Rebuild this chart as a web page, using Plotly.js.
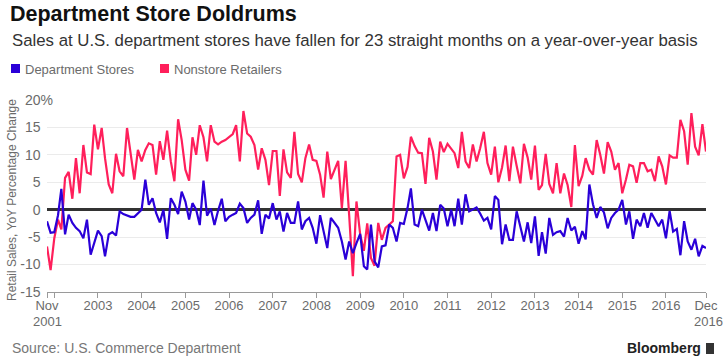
<!DOCTYPE html>
<html>
<head>
<meta charset="utf-8">
<script src="https://cdn.plot.ly/plotly-3.0.1.min.js"></script>
<style>
html,body{margin:0;padding:0;background:#fff;}
#chart{width:728px;height:364px;}
</style>
</head>
<body>
<div id="chart"></div>
<script>
// Monthly series, Nov 2001 .. Dec 2016 (182 months)
const startYear = 2001, startMonth = 11;

const departmentStores = [
 -2.1,-4.2,-4.1,-1.0,3.8,-4.5,-0.9,-2.4,-3.3,-3.9,-5.2,-1.8,
 -8.2,-6.0,-3.8,-4.8,-8.5,-4.5,-4.1,-4.7,-0.3,-0.8,-1.1,-1.3,
 -1.3,-0.7,0.0,5.5,0.9,2.1,-0.6,-2.3,0.0,-5.3,2.1,0.9,
 -0.8,3.3,1.5,-1.8,1.2,0.0,-2.8,5.3,-1.1,0.2,-2.8,-0.2,
 2.0,-2.1,-1.3,-0.9,-0.6,1.1,0.3,-2.4,-1.5,-0.9,1.7,-4.4,
 -0.9,-1.6,1.2,-1.8,-0.3,-4.0,-0.6,-2.4,-2.4,1.5,-3.6,-2.1,
 -1.5,-3.3,-6.2,-1.0,-3.9,-7.0,-1.5,-2.4,-3.3,-5.8,-9.1,-5.8,
 -7.9,-6.1,-4.4,-10.3,-10.9,-2.7,-9.4,-10.5,-6.7,-6.5,-2.7,-3.3,
 -5.8,-2.4,-2.6,0.3,3.9,-2.7,-3.0,0.0,-1.8,-3.8,-0.6,-3.9,
 0.9,0.2,-3.0,0.0,-3.0,2.0,-2.7,2.8,-0.3,0.0,0.4,-0.7,
 -2.0,-1.5,-3.6,2.5,1.8,-6.3,-2.7,-5.5,-5.5,-0.3,-3.4,-5.8,
 -2.3,-6.1,-1.2,-8.4,-4.1,-8.0,-1.5,-4.6,-4.1,-3.9,-4.9,-1.5,
 -3.8,-3.1,-6.2,-3.9,-5.4,4.6,1.0,-1.5,0.5,-0.5,-3.4,-1.5,
 -0.6,0.0,1.8,-2.7,-0.3,-5.3,-1.8,-3.0,-0.6,-3.3,-0.6,-1.8,
 -3.0,-1.8,-5.2,-0.2,-4.0,-3.5,-8.3,-2.1,-5.8,-7.3,-5.3,-8.5,
 -6.6,-7.0
];

const nonstoreRetailers = [
 -6.7,-11.0,-5.2,-1.8,-3.6,5.8,6.9,2.0,9.4,3.0,11.8,6.8,
 6.5,15.5,11.0,14.9,9.4,4.6,3.0,10.2,7.0,6.1,14.9,10.6,
 5.5,10.9,8.8,10.9,12.1,11.8,6.4,12.5,9.1,14.4,8.8,5.2,
 16.5,12.7,7.3,5.3,13.2,10.0,15.4,13.2,8.8,15.4,12.4,11.9,
 12.4,12.7,13.2,13.8,15.4,8.8,18.0,13.9,13.3,11.8,7.3,11.2,
 9.1,4.5,10.7,10.7,2.5,11.0,6.8,5.8,14.2,6.5,5.0,9.4,
 11.9,9.1,8.9,6.4,2.2,10.6,5.6,7.3,8.9,0.3,8.9,-1.0,
 -12.1,1.5,-4.5,-7.5,-2.5,-8.8,-10.2,-2.4,-5.5,-3.3,-2.7,-2.1,
 9.7,10.0,5.7,7.8,13.3,11.6,10.4,10.3,4.7,13.1,10.6,5.5,
 12.4,10.5,12.0,11.0,10.3,7.6,14.2,8.8,7.6,11.9,8.8,11.2,
 14.2,8.5,6.4,11.5,5.0,7.7,11.7,5.2,11.5,8.0,4.8,12.0,
 9.5,5.5,11.7,3.6,4.5,10.2,4.7,3.0,8.5,3.0,6.6,4.5,
 0.5,11.8,4.3,6.2,9.4,7.3,6.4,12.7,10.0,6.6,12.3,10.6,
 7.3,8.5,3.0,5.5,8.2,7.9,4.9,8.5,8.5,7.0,7.3,5.2,
 9.7,7.9,4.6,9.9,9.5,9.5,16.4,14.3,8.2,17.6,11.5,9.9,
 15.6,10.6
];

const xTickVals = ['2001-11-01','2002-01-01','2003-01-01','2004-01-01','2005-01-01','2006-01-01',
  '2007-01-01','2008-01-01','2009-01-01','2010-01-01','2011-01-01','2012-01-01','2013-01-01',
  '2014-01-01','2015-01-01','2016-01-01','2016-12-01'];
const xTickText = ['Nov','','2003','2004','2005','2006','2007','2008','2009','2010',
  '2011','2012','2013','2014','2015','2016','Dec'];
const xEndYears = ['2001', '2016'];
const yTickVals = [-15,-10,-5,0,5,10,15,20];
const yTickText = ['-15','-10','-5','0','5','10','15','20%'];

// month dates
const months = [];
for (let i = 0; i < departmentStores.length; i++) {
  const t = (startMonth - 1) + i;
  const y = startYear + Math.floor(t / 12);
  const m = (t % 12) + 1;
  months.push(y + '-' + String(m).padStart(2, '0') + '-01');
}

const BLUE = '#2a00d8';
const PINK = '#ff1f5b';
const GRAY = '#6b6b6b';

const L = 47, R = 22, T = 100, B = 72, W = 728, H = 364;
const PW = W - L - R, PH = H - T - B;
const px2x = p => (p - L) / PW;
const px2y = p => (H - B - p) / PH;

const traces = [
  {x: months, y: nonstoreRetailers, type: 'scatter', mode: 'lines', name: 'Nonstore Retailers',
   line: {color: PINK, width: 2.2}, showlegend: false, hoverinfo: 'x+y'},
  {x: months, y: departmentStores, type: 'scatter', mode: 'lines', name: 'Department Stores',
   line: {color: BLUE, width: 2.2}, showlegend: false, hoverinfo: 'x+y'}
];

const FONT = 'Liberation Sans, Arial, Helvetica, sans-serif';

const yText = yTickText.map(t => t.endsWith('%') ? t : t + '<span style="color:rgba(0,0,0,0)">%</span>');

const layout = {
  width: W, height: H,
  margin: {l: L, r: R, t: T, b: B, pad: 0},
  paper_bgcolor: '#fff', plot_bgcolor: '#fff',
  font: {family: FONT, color: GRAY, size: 13},
  title: {text: '<b>Department Store Doldrums</b>', font: {family: FONT, size: 21.5, color: '#111'},
          xref: 'container', yref: 'container', x: 10 / W, xanchor: 'left', y: 1 - 6 / H, yanchor: 'top'},
  showlegend: false,
  xaxis: {
    type: 'date', range: ['2001-11-01', '2016-12-01'],
    tickmode: 'array', tickvals: xTickVals, ticktext: xTickText,
    showgrid: false, zeroline: false,
    showline: true, linecolor: '#9a9a9a', linewidth: 1,
    ticks: 'outside', ticklen: 5, tickcolor: '#9a9a9a', tickwidth: 1,
    ticklabelstandoff: -4,
    tickfont: {size: 13, color: GRAY, family: FONT}, tickangle: 0
  },
  yaxis: {
    range: [-15, 20], tickmode: 'array', tickvals: yTickVals, ticktext: yText,
    showgrid: true, gridcolor: '#ebebeb', gridwidth: 1,
    zeroline: true, zerolinecolor: '#333', zerolinewidth: 2.5,
    showline: false, ticks: '', ticklabelstandoff: -7,
    tickfont: {size: 14, color: GRAY, family: FONT}
  },
  shapes: [
    {type: 'rect', xref: 'paper', yref: 'paper', x0: px2x(11), x1: px2x(20), y0: px2y(73), y1: px2y(64),
     fillcolor: BLUE, line: {width: 0}},
    {type: 'rect', xref: 'paper', yref: 'paper', x0: px2x(160), x1: px2x(169), y0: px2y(73), y1: px2y(64),
     fillcolor: PINK, line: {width: 0}},
    {type: 'rect', xref: 'paper', yref: 'paper', x0: px2x(706), x1: px2x(714), y0: px2y(354), y1: px2y(343),
     fillcolor: '#333', line: {width: 0}}
  ],
  annotations: [
    {text: 'Sales at U.S. department stores have fallen for 23 straight months on a year-over-year basis',
     xref: 'paper', yref: 'paper', x: px2x(10), y: px2y(41), xanchor: 'left', yanchor: 'middle',
     showarrow: false, font: {size: 16.8, color: '#333', family: FONT}},
    {text: 'Department Stores', xref: 'paper', yref: 'paper', x: px2x(23), y: px2y(69),
     xanchor: 'left', yanchor: 'middle', showarrow: false, font: {size: 13, color: GRAY, family: FONT}},
    {text: 'Nonstore Retailers', xref: 'paper', yref: 'paper', x: px2x(172), y: px2y(69),
     xanchor: 'left', yanchor: 'middle', showarrow: false, font: {size: 13, color: GRAY, family: FONT}},
    {text: 'Retail Sales, YoY Percentage Change', xref: 'paper', yref: 'paper', x: px2x(12), y: px2y(200),
     xanchor: 'center', yanchor: 'middle', textangle: -90, showarrow: false,
     font: {size: 12, color: GRAY, family: FONT}},
    {text: xEndYears[0], xref: 'x', yref: 'paper', x: xTickVals[0], y: px2y(321),
     xanchor: 'center', yanchor: 'middle', showarrow: false, font: {size: 13, color: GRAY, family: FONT}},
    {text: xEndYears[1], xref: 'x', yref: 'paper', x: xTickVals[xTickVals.length - 1], y: px2y(321),
     xanchor: 'center', yanchor: 'middle', showarrow: false, xshift: 2, font: {size: 13, color: GRAY, family: FONT}},
    {text: 'Source: U.S. Commerce Department', xref: 'paper', yref: 'paper', x: px2x(10), y: px2y(348),
     xanchor: 'left', yanchor: 'middle', showarrow: false, font: {size: 14, color: '#777', family: FONT}},
    {text: '<b>Bloomberg</b>', xref: 'paper', yref: 'paper', x: px2x(703), y: px2y(348),
     xanchor: 'right', yanchor: 'middle', showarrow: false, font: {size: 14, color: '#222', family: FONT}}
  ]
};

Plotly.newPlot('chart', traces, layout, {displayModeBar: false, staticPlot: true});
</script>
</body>
</html>
